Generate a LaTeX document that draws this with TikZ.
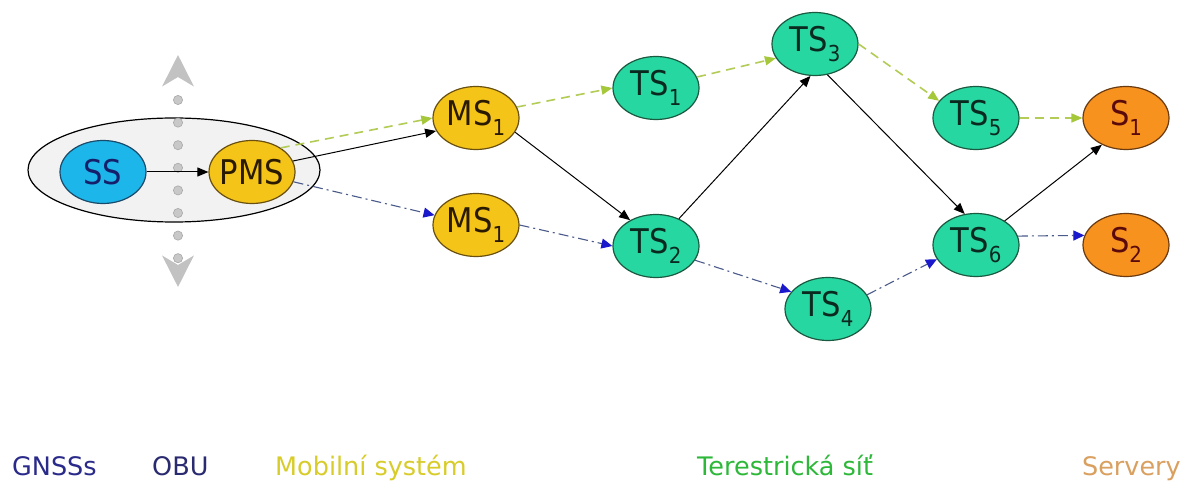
\documentclass[tikz,border=0pt]{standalone}
\usepackage{fontspec}
\setmainfont{DejaVu Sans Condensed}
\newfontfamily\legfont{DejaVu Sans}
\usetikzlibrary{shapes.geometric,arrows.meta}
\definecolor{ssfill}{HTML}{1DB6EA}
\definecolor{ssline}{HTML}{1A4A6A}
\definecolor{ssText}{HTML}{16206A}
\definecolor{msfill}{HTML}{F5C418}
\definecolor{msline}{HTML}{6A5010}
\definecolor{msText}{HTML}{2A1A00}
\definecolor{tsfill}{HTML}{27D7A1}
\definecolor{tsline}{HTML}{1A5A40}
\definecolor{tsText}{HTML}{0A2A20}
\definecolor{sfill}{HTML}{F7921E}
\definecolor{sline}{HTML}{6A3A10}
\definecolor{sText}{HTML}{5A0A0A}
\definecolor{obufill}{HTML}{F2F2F2}
\definecolor{greyarr}{HTML}{C2C2C2}
\definecolor{greydot}{HTML}{C8C8C8}
\definecolor{greydotline}{HTML}{A8A8A8}
\definecolor{greenline}{HTML}{B2CC55}
\definecolor{greentip}{HTML}{A4C83A}
\definecolor{blueline}{HTML}{4A5A8A}
\definecolor{bluetip}{HTML}{1A1ACC}
\definecolor{legblue}{HTML}{2A2A8A}
\definecolor{legobu}{HTML}{2A2A70}
\definecolor{legyellow}{HTML}{D8CC2A}
\definecolor{leggreen}{HTML}{2EB83A}
\definecolor{legorange}{HTML}{D9A060}
\newcommand\subs[1]{\raisebox{-10pt}{\fontsize{22}{22}\selectfont #1}}
\newcommand\lab[1]{\makebox[0pt][c]{#1}}
\tikzset{
  nd/.style={ellipse, draw, line width=1.2pt, minimum width=86pt, minimum height=63pt, inner sep=0pt, font=\fontsize{34}{34}\selectfont},
  ssnode/.style={nd, fill=ssfill, draw=ssline, text=ssText},
  msnode/.style={nd, fill=msfill, draw=msline, text=msText},
  tsnode/.style={nd, fill=tsfill, draw=tsline, text=tsText},
  snode/.style={nd, fill=sfill, draw=sline, text=sText},
  blk/.style={draw=black, line width=1pt, -{Triangle[length=11pt,width=9pt]}},
  grn/.style={draw=greenline, line width=1.6pt, dash pattern=on 9pt off 6pt, -{Triangle[length=11pt,width=9pt,color=greentip]}},
  blu/.style={draw=blueline, line width=1.1pt, dash pattern=on 10pt off 4pt on 2pt off 4pt, -{Triangle[length=11pt,width=10pt,color=bluetip]}},
  leg/.style={anchor=base west, font=\legfont\fontsize{25.5}{25.5}\selectfont, inner sep=0pt},
  gtip/.tip={Stealth[length=31pt,width=31pt,inset=9pt,color=greyarr,line cap=butt]},
}
\begin{document}
\begin{tikzpicture}[x=1pt,y=-1pt]
\useasboundingbox (0,0) rectangle (1189,486);
\fill[white] (0,0) rectangle (1189,486);
% OBU ellipse
\node[ellipse, draw=black, line width=1.2pt, fill=obufill, minimum width=292pt, minimum height=104pt, inner sep=0pt] (obu) at (174,170) {};
% grey dotted double arrow
\coordinate (gup) at (178,55);
\coordinate (gdn) at (178,287);
\draw[greyarr, line width=8pt, line cap=butt, dash pattern=on 0pt off 1000pt, gtip-gtip] (gdn) -- (gup);
\foreach \yy in {100,122.6,...,260}
  \draw[greydotline, fill=greydot, line width=0.6pt] (178,\yy) circle (4.6pt);
% nodes
\node[ssnode] (ss) at (103,172) {\lab{SS}};
\node[msnode] (pms) at (252,172) {\lab{PMS}};
\node[msnode] (ms1a) at (476,118) {\lab{MS\subs{1}}};
\node[msnode] (ms1b) at (476,225) {\lab{MS\subs{1}}};
\node[tsnode] (ts1) at (656,88) {\lab{TS\subs{1}}};
\node[tsnode] (ts2) at (656,246) {\lab{TS\subs{2}}};
\node[tsnode] (ts3) at (815,44) {\lab{TS\subs{3}}};
\node[tsnode] (ts4) at (828,309) {\lab{TS\subs{4}}};
\node[tsnode] (ts5) at (976,118) {\lab{TS\subs{5}}};
\node[tsnode] (ts6) at (976,245) {\lab{TS\subs{6}}};
\node[snode] (s1) at (1126,118) {\lab{S\subs{1}}};
\node[snode] (s2) at (1126,245) {\lab{S\subs{2}}};
% connectors
\draw[blk] (ss) -- (pms);
\draw[grn] (pms.40) -- (ms1a.west);
\draw[blk] (pms.15) -- (ms1a.198);
\draw[blu] (pms) -- (ms1b);
\draw[grn] (ms1a.15) -- (ts1.west);
\draw[blk] (ms1a.-20) -- (ts2.135);
\draw[blu] (ms1b.east) -- (ts2.west);
\draw[grn] (ts1.15) -- (ts3.200);
\draw[blk] (ts2.50) -- (ts3.262);
\draw[blu] (ts2.-20) -- (ts4.155);
\draw[grn] (ts3.0) -- (ts5.155);
\draw[blk] (ts3.-68) -- (ts6.110);
\draw[blu] (ts4.20) -- (ts6.200);
\draw[grn] (ts5.east) -- (s1.west);
\draw[blk] (ts6.40) -- (s1.228);
\draw[blu] (ts6.12) -- (s2.167);
% legend
\node[leg, text=legblue] (lg1) at (12,475) {GNSSs};
\node[leg, text=legobu] (lg2) at (152,475) {OBU};
\node[leg, text=legyellow] (lg3) at (275,475) {Mobilní systém};
\node[leg, text=leggreen] (lg4) at (697,475) {Terestrická síť};
\node[leg, anchor=base east, text=legorange] (lg5) at (1181,475) {Servery};
\end{tikzpicture}
\end{document}
